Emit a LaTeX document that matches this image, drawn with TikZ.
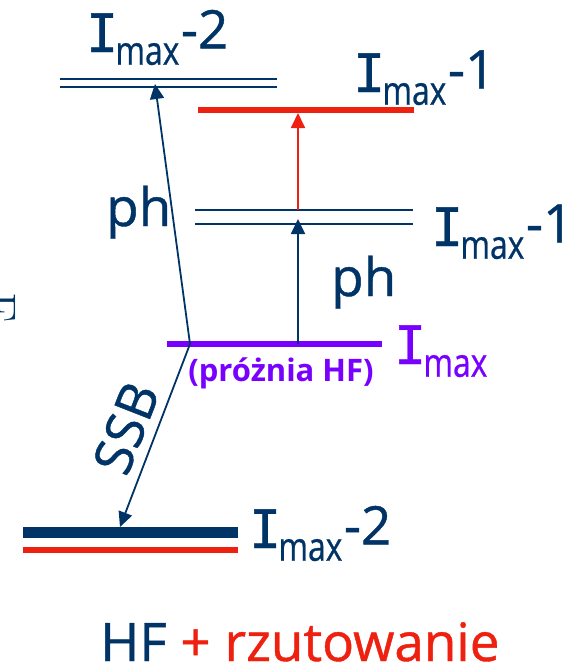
\documentclass[tikz,border=0pt]{standalone}
\usepackage{fontspec}
\setsansfont{Open Sans}
\renewcommand{\familydefault}{\sfdefault}
\newfontfamily\slabfont{DejaVu Sans Mono}[FakeBold=0.8]
\newfontfamily\labfont{Open Sans}[FakeBold=0.8]
\usepackage{graphicx}
\usetikzlibrary{arrows.meta, positioning}
\definecolor{navy}{RGB}{0, 51, 102}
\definecolor{hfred}{RGB}{238, 32, 16}
\definecolor{vacviolet}{RGB}{120, 0, 255}
\newcommand{\Imax}[1]{{\slabfont I}\kern-0.05em\raisebox{-0.24em}{\scalebox{0.6}[0.75]{max}}\kern0.03em\raisebox{0.07em}{#1}}

\begin{document}
\begin{tikzpicture}[x=1pt, y=-1pt,
    lab/.style={font=\labfont\fontsize{53}{53}\selectfont, text=navy, inner sep=0pt},
    dbl/.style={draw=navy, line width=1.5pt, double=white},
    arr/.style={draw=navy, line width=1.8pt, -{Triangle[length=15pt, width=14pt]}}]
                \useasboundingbox (0,0) rectangle (584,664);

                % Cut-off letter at the left edge
                \node[font=\rmfamily\fontsize{50}{50}\selectfont, text=navy, inner sep=0pt,
                      rotate=-90, anchor=north west] (edgeF) at (16,292) {F};

                % HF levels
                \draw[dbl, double distance=6.8pt] (60,83) -- (277,83);
                \draw[hfred, line width=6pt] (198,110) -- (414,110);
                \draw[dbl, double distance=12.5pt] (195,217) -- (413,217);
                \draw[vacviolet, line width=6pt] (167,344) -- (382,344);
                \draw[navy, line width=11pt] (23,532) -- (238,532);
                \draw[hfred, line width=6pt] (23,550) -- (238,550);

                % Level labels
                \node[lab, anchor=base west] (topTwo) at (86,52) {\Imax{-2}};
                \node[lab, anchor=base west] (redOne) at (353,92) {\Imax{-1}};
                \node[lab, anchor=base west] (midOne) at (431,246) {\Imax{-1}};
                \node[lab, anchor=base west, text=vacviolet] (vacLab) at (394,364) {\Imax{}};
                \node[lab, anchor=base west] (lowTwo) at (249,548) {\Imax{-2}};
                \node[font=\bfseries\fontsize{31}{31}\selectfont, text=vacviolet, inner sep=0pt]
                     (vacNote) at (281,373) {(próżnia HF)};

                % Transitions
                \coordinate (vacL) at (190,344);
                \coordinate (vacR) at (298,344);
                \coordinate (topIn) at (155,84);
                \coordinate (midIn) at (298,219);
                \coordinate (midUp) at (298,210);
                \coordinate (redIn) at (298,113);
                \coordinate (lowIn) at (120,527);
                \draw[arr] (vacL) -- (topIn);
                \draw[arr] (vacR) -- (midIn);
                \draw[arr, draw=hfred, fill=hfred] (midUp) -- (redIn);
                \draw[arr] (vacL) -- (lowIn);

                % Transition labels
                \node[lab, anchor=base west] (phLeft) at (106,226) {ph};
                \node[lab, anchor=base west] (phRight) at (331,296) {ph};
                \node[lab, rotate=68.6] (ssb) at (126,428) {SSB};

                % Caption
                \node[font=\labfont\fontsize{53}{53}\selectfont, inner sep=0pt, anchor=base west] (caption)
                     at (100,661) {\textcolor{navy}{HF} \textcolor{hfred}{+ rzutowanie}};
            \end{tikzpicture}
\end{document}
